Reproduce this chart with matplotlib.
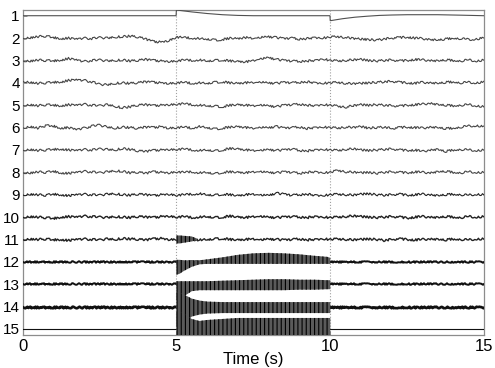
import numpy as np
import matplotlib
matplotlib.use("Agg")
import matplotlib.pyplot as plt

plt.rcParams['font.family'] = ['Liberation Sans', 'DejaVu Sans']
plt.rcParams['hatch.linewidth'] = 0.8

# ---------------- data ----------------
channels = list(range(1, 16))
x_ticks = [0, 5, 10, 15]
event_times = [5, 10]
amp_unit = 22.4  # signal units per channel spacing

# common sample times for channels 2-11 (every 0.25 s)
t_common = [i * 0.25 for i in range(61)]

# channel 1 (step response like trace)
t_ch1 = [0, 4.99, 5.0, 5.5, 6.0, 6.5, 7.0, 7.5, 8.0, 9.0, 9.99, 10.0, 10.4, 10.8, 11.2, 11.6,
         12.0, 12.5, 13.0, 13.5, 14.3, 15.0]
v_ch1 = [0, 0, 5.7, 3.8, 2.2, 1.0, 0.3, 0.0, 0.0, 0.0, 0.0, -5.0, -3.0, -1.5, -0.5, 0.3,
         0.7, 1.0, 1.0, 1.0, 0.5, 0.0]

ch2 = [0, 0.5, 1.5, 2, 0.5, -0.5, 0, -1, 0, -0.5, 0.5, 0, 1, 1.5, 2, 1, -1, -3.5, -4, -2.5, 1,
       0.5, 0, -0.5, -1, -2, -1.5, 0, -0.5, 0.5, 0, 1, 1.5, 0.5, -0.5, 0, -1, -0.5, 0.5, 0, 1,
       1.5, 0.5, -0.5, -1, -1.5, -2, -1, 0, 0.5, 1, 0, -0.5, -1.5, -2, -1, 0, -0.5, -1.5, -1, 0.5]
ch3 = [0, -0.5, 0.5, 0, -0.5, 0.5, 2, 0.5, -1, 0, 0.5, -0.5, 0, 0.5, -0.5, 0, 1, 0, -0.5, -1, -0.5,
       0.5, 0, 0.5, -0.5, 0, 0.5, -0.5, -1, -1.5, 0, 2, 3, 1, 0, -0.5, -1, -0.5, 0, 1.5, 0,
       -0.5, 0, 0.5, 1, 0, -0.5, 0, 0.5, -0.5, 0, 1, 0.5, 0, -0.5, 0.5, 0, -0.5, 0.5, -0.5, 0.5]
ch4 = [2, 0.5, -0.5, 0, 0.5, 1, 2.5, 3, 2.5, 1, -1.5, -2, -0.5, 0, -0.5, 0, 1, 0.5, 0, -0.5, 0,
       0.5, -0.5, 0, -0.5, 0.5, 1, 0, -0.5, 0, 0.5, 1, 0, -0.5, 0.5, 0, 0.5, 1, 0, -0.5, 0,
       0.5, -0.5, -1, -0.5, 0, 0.5, 1, 1.5, 0.5, 0, -0.5, 0.5, 0, -0.5, 0.5, 1, 0, 0.5, 0, 1]
ch5 = [0, 0.5, -0.5, 0.5, 0, -0.5, 0.5, 0, 1, 0, -0.5, 0.5, -1, -2.5, -1.5, 0, 0.5, -0.5, 0, 0.5, 1,
       1.5, 0.5, 0, -0.5, -1, -1.5, 0, 0.5, 0, -0.5, 0.5, -0.5, -1.5, 0, 0.5, 1, 0, -0.5, 0.5, 0,
       -1, -2, -0.5, 0.5, 0, 0.5, 0, -0.5, -1, 0, 0.5, 1, 2, 0.5, 0, -0.5, 0, 0.5, -0.5, -1.5]
ch6 = [0, 1, -0.5, 2, 1.5, -0.5, 0, -2, -0.5, 1.5, 2.5, 0.5, -0.5, 0.5, 0, -1, 0.5, 0, 1, -0.5, 0,
       0.5, -0.5, 1, 0, -1.5, -0.5, 0.5, 1, 0, -0.5, 0.5, 0, 1, -0.5, 0, 0.5, -1, 0, 0.5, 0,
       -0.5, 0.5, 0, 1, -0.5, 0, 0.5, -1, 0, 0.5, 0, -0.5, 0.5, 0, -1, -0.5, 0.5, 1.5, 2, 1]
ch7 = [0, 0.5, -0.5, 0, 0.5, 1, 0, -0.5, 0.5, 0, 1, 0.5, 0, 1.5, 0.5, -1, -1.5, -0.5, 0, 0.5, 0.5,
       1, 0, -0.5, 0, -1, 0, 1.5, 1, 0, -0.5, 0, 0.5, -0.5, 0, 1, -0.5, -1, 0, 0.5, 0,
       -0.5, 0.5, 1, 0, -0.5, 0, 0.5, 1, 0, -0.5, 0, -1.5, 0, 0.5, -1.5, 0, 0.5, 0, -0.5, 0]
ch8 = [0, -0.5, 0.5, 0, 1, -0.5, -1, 0, 1, 0.5, -0.5, 0.5, 1.5, 1, -0.5, 0, -1, 0.5, 0, -0.5, 0.5,
       0, 0.5, -0.5, 0, -1.5, 0, 0.5, 0, -0.5, 0.5, 1, 0, -0.5, 0.5, 0, -1, 0, 0.5, -0.5, 0,
       2, 0.5, 0, -0.5, 0, -1, 0, 0.5, 0, -0.5, 0.5, 0, -0.5, 0.5, 1, 0, -0.5, 0.5, 0, 0]
ch9 = [0, 0.5, 0, -0.5, 0.5, 0, -1, 0, 0.5, 0, -0.5, 0.5, 1, 0, -0.5, 0.5, 0, -1, 0, 0.5, -0.5,
       0, 0.5, 1, 0, -0.5, 0.5, 0, -1, 0, 0.5, 0, -0.5, 1.5, 0.5, -0.5, 0, 0.5, -0.5, -1, 0,
       0.5, 0, -0.5, 0.5, 1, 0, -0.5, 0, 0.5, -0.5, 0, 0.5, 0, -1, 0, 0.5, 0, -0.5, 0.5, 0]
ch10 = [0, 0.5, 0, -0.5, -1.5, 0, 0.5, 0, 1, 0.5, 0, -0.5, 0.5, 0, -0.5, 0.5, 0, -0.5, 0.5, 1, 0,
        0.5, -0.5, 0, 0.5, -0.5, 0, 1, 0, -0.5, 0.5, 1, 0, -0.5, 0, 0.5, 0, -0.5, 0.5, 0, -0.5,
        0, 0.5, 1, 0.5, 0, -0.5, 0, 0.5, 0, -1, 0, 0.5, 0, -0.5, 0.5, 0, -0.5, 0.5, 0, 0.5]
ch11 = [0, 0.5, 0, 0.5, -0.5, 0, -1, 0, 0.5, 0, -0.5, 0.5, 0, 1, 0.5, 0, -0.5, 0.5, 1, 0, 0,
        0.5, 0, -0.5, 0, 0.5, 1, 0, -0.5, 0, 0.5, 0, 0.5, 0, -0.5, 0, 0.5, -0.5, 0, 0.5, 0,
        0.5, 0, -0.5, 0, 0.5, 0, -1, 0, 0.5, 0, -0.5, 0, 0.5, 0, -0.5, 0.5, 0, -0.5, 0.5, 0.5]
noisy_channels = {2: ch2, 3: ch3, 4: ch4, 5: ch5, 6: ch6, 7: ch7, 8: ch8, 9: ch9, 10: ch10, 11: ch11}

# channels 12-15: quiet baseline outside the stimulation window
quiet_t = [0, 5, 10, 15]
quiet_v = [0, 0, 0, 0]

# envelopes of dense oscillation (upper = positive, lower = negative)
burst11_t = [5.0, 5.1, 5.3, 5.5, 5.7]
burst11_hi = [4, 4, 3.5, 3, 0.5]
burst11_lo = [-4, -4, -3, -2, -0.5]

band_t = [5.0, 5.1, 5.25, 5.5, 5.75, 6.0, 6.5, 7.0, 7.5, 8.0, 8.5, 9.0, 9.5, 9.9, 10.0]
env12_hi = [2, 2, 1.5, 1.5, 1.5, 2.5, 4.5, 7, 8.5, 9, 8.5, 7.5, 6, 5, 4]
env12_lo = [-13, -12, -9, -5, -2.5, -2, -2, -2, -2, -2, -2, -2, -2, -2, -2]
env13_hi = [3, 3, 3, 3, 3, 3, 3.5, 4, 4.5, 5, 5, 4.5, 4.5, 4, 4]
env13_lo = [-16, -15, -12, -7, -6, -6, -6, -6, -6, -6, -6, -5.5, -5.5, -5, -5]
env14_hi = [14, 14, 12, 8, 6, 5, 4.5, 4.5, 4.5, 4.5, 4.5, 4.5, 4.5, 4.5, 4.5]
env14_lo = [-20, -20, -17, -10, -8, -7, -6.5, -6.5, -6.5, -6.5, -6.5, -6.5, -6.5, -6.5, -6.5]
env15_hi = [17, 17, 15, 10, 8, 9, 10, 11, 11, 11, 11, 11, 11, 11, 11]
env15_lo = [-8, -8, -8, -8, -8, -8, -8, -8, -8, -8, -8, -8, -8, -8, -8]
envelopes = {12: (env12_hi, env12_lo), 13: (env13_hi, env13_lo),
             14: (env14_hi, env14_lo), 15: (env15_hi, env15_lo)}

# ---------------- plot ----------------
fig = plt.figure(figsize=(4.95, 3.68), dpi=100)
ax = fig.add_axes([0.0455, 0.0897, 0.9325, 0.8831])


def place(ch, vals):
    return ch - np.asarray(vals, dtype=float) / amp_unit


for et in event_times:
    ax.axvline(et, color='#a0a0a0', linestyle=':', linewidth=0.8, zorder=1)

ax.plot(t_ch1, place(1, v_ch1), color='#505050', linewidth=0.8, zorder=3)

for ch, vals in noisy_channels.items():
    col = '#454545' if ch < 9 else '#222222'
    lw = 0.8 if ch < 10 else 1.0
    ln, = ax.plot(t_common, place(ch, vals), color=col, linewidth=lw, zorder=3)
    ln.set_sketch_params(scale=1.1, length=2.5, randomness=4)

ax.fill_between(burst11_t, place(11, burst11_hi), place(11, burst11_lo),
                facecolor='#555555', edgecolor='#000000', hatch='||||',
                linewidth=0, zorder=3)

quiet_lw = {12: 1.4, 13: 1.4, 14: 1.9, 15: 0.8}
for ch in (12, 13, 14, 15):
    ln, = ax.plot(quiet_t, place(ch, quiet_v), color='#111111', linewidth=quiet_lw[ch], zorder=3)
    if ch != 15:
        ln.set_sketch_params(scale=0.8, length=2, randomness=4)
    hi, lo = envelopes[ch]
    ax.fill_between(band_t, place(ch, hi), place(ch, lo), facecolor='#5a5a5a',
                    edgecolor='#000000', hatch='||||', linewidth=0, zorder=4)

ax.set_xlim(0, 15)
ax.set_ylim(15.27, 0.745)
ax.set_xticks(x_ticks)
ax.set_xticklabels([str(v) for v in x_ticks])
ax.set_yticks(channels)
ax.set_yticklabels([str(c) for c in channels])
ax.tick_params(axis='both', direction='in', length=3, width=0.6, color='#888888',
               labelcolor='black')
ax.tick_params(axis='y', pad=2, labelsize=11)
ax.tick_params(axis='x', pad=3, labelsize=12)
for sp in ax.spines.values():
    sp.set_color('#8c8c8c')
    sp.set_linewidth(0.9)
ax.set_xlabel('Time (s)', fontsize=12)
ax.xaxis.set_label_coords(0.5, -0.052)

fig.savefig('out.png', dpi=100)
